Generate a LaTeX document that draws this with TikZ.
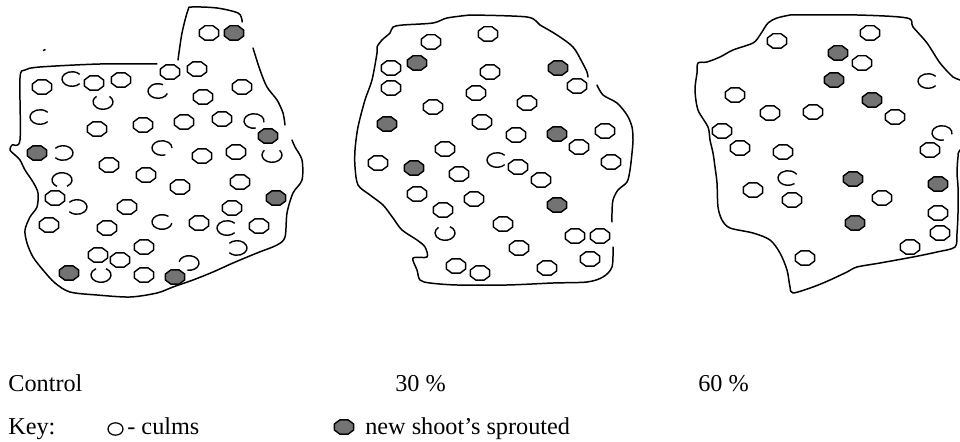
\documentclass[tikz,border=0pt]{standalone}
\usepackage{fontspec}
\setmainfont{Liberation Serif}
\usetikzlibrary{shapes.geometric}
\tikzset{
  outline/.style={line width=0.85pt, line join=round, line cap=round},
  culm/.style={line width=0.8pt, line join=round},
  shootfill/.style={fill=black!55, draw=black, line width=0.8pt, line join=round},
  lbl/.style={anchor=base west, inner sep=0pt, font=\fontsize{13.8}{16}\selectfont},
}
\newcommand\octpath[2]{(#1,#2) ++(9.6,3.0) -- ++(-5.6,4.2) -- ++(-8,0) -- ++(-5.6,-4.2) -- ++(0,-6) -- ++(5.6,-4.2) -- ++(8,0) -- ++(5.6,4.2) -- cycle}
\newcommand\cu[2]{\draw[culm] \octpath{#1}{#2};}
\newcommand\sh[2]{\draw[shootfill] \octpath{#1}{#2};}
\newcommand\cp[4]{\draw[culm] ([shift={(#3:10 and 7.3)}]#1,#2) arc[start angle=#3, end angle=#4, x radius=10, y radius=7.3];}
\begin{document}
\begin{tikzpicture}[x=0.02cm, y=-0.02cm]
\useasboundingbox (0,0) rectangle (960,442);

% ---------------- Panel 1 (Control) ----------------
\draw[outline] plot[smooth, tension=0.5] coordinates {
 (157,64) (100,64) (40,67) (25,70) (20,78) (20,140) (12,145) (10,150) (15,155) (20,160)
 (25,170) (33,182) (38,193) (37,207) (30,217) (25,230) (27,243) (33,257) (43,270) (55,283)
 (70,292) (97,295) (130,297) (157,293) (173,287) (193,280) (213,272) (233,263) (257,253)
 (277,245) (285,237) (287,213) (293,193) (302,180) (302,160) (295,147) (292,140)};
\draw[outline] plot[smooth, tension=0.5] coordinates {
 (178,60) (182,33) (188,10) (192,7) (217,8) (238,13) (242,20) (242,22)};
\draw[outline] plot[smooth, tension=0.5] coordinates {
 (253,48) (260,70) (267,87) (277,100) (283,113) (285,125)};
\draw[line width=0.8pt] (43,50.5) -- (45.5,49.5);

\cu{209}{33} \sh{234}{33}
\cu{170}{72} \cu{197}{69}
\cu{42}{87} \cp{72}{79}{40}{320} \cu{94}{83} \cu{121}{80}
\cp{158}{91}{20}{300} \cu{242}{87} \cp{103}{102}{-50}{230} \cu{203}{97}
\cp{40}{117}{40}{320} \cu{97}{129} \cu{143}{125} \cu{184}{122} \cu{222}{119}
\cp{254}{121}{80}{370} \sh{268}{136}
\sh{37}{153} \cp{63}{153}{-140}{140} \cp{162}{148}{70}{360} \cu{202}{156}
\cu{236}{152} \cp{272}{155}{-40}{220}
\cu{109}{165} \cu{146}{175} \cu{180}{187} \cu{240}{182} \cp{62}{180}{120}{420}
\cu{55}{198} \cp{77}{207}{-140}{140} \cu{127}{207} \sh{276}{198} \cu{232}{208}
\cu{49}{225} \cu{107}{228} \cp{162}{222}{10}{310} \cu{199}{223} \cp{227}{228}{40}{320}
\cu{259}{226}
\cu{144}{247} \cu{98}{255} \cu{120}{260} \cp{237}{248}{-140}{140} \cp{189}{263}{190}{460}
\sh{69}{273} \cp{101}{275}{-60}{240} \cu{144}{275} \sh{175}{277}

% ---------------- Panel 2 (30 %) ----------------
\draw[outline] plot[smooth, tension=0.5] coordinates {
 (470,15) (527,17) (540,25) (557,35) (573,47) (582,62) (587,72) (588,77)};
\draw[outline] plot[smooth, tension=0.5] coordinates {
 (597,85) (603,95) (617,103) (627,115) (632,127) (633,140) (632,153) (630,170) (627,182)
 (618,190) (613,200) (612,213) (612,222)};
\draw[outline] plot[smooth, tension=0.5] coordinates {
 (613,247) (612,267) (603,277) (587,282) (553,283) (507,285) (457,285) (430,283) (420,280)
 (417,270) (413,258) (427,257) (425,247) (417,240) (402,230) (393,218) (383,205) (370,195)
 (358,185) (355,167) (355,150) (358,127) (365,100) (372,80) (377,53) (377,47) (382,40)
 (390,33) (393,27) (403,25) (433,23) (447,18) (470,15)};

\cu{431}{42} \cu{488}{34}
\sh{417}{63} \cu{391}{68} \sh{558}{68} \cu{490}{72}
\cu{391}{88} \cu{577}{86} \cu{476}{93} \cu{527}{103} \cu{433}{107}
\sh{387}{124} \cu{482}{122} \cu{516}{135} \sh{557}{134} \cu{605}{131}
\cu{579}{147} \cu{445}{149} \cu{378}{163} \sh{414}{168} \cp{497}{160}{40}{320}
\cu{518}{167} \cu{611}{162} \cu{459}{174} \cu{541}{180}
\cu{417}{194} \cu{474}{199} \sh{557}{205} \cu{443}{210} \cu{503}{224}
\cp{445}{233}{-60}{230} \cu{575}{236} \cu{600}{236} \cu{519}{248} \cu{590}{259}
\cu{456}{266} \cu{480}{273} \cu{547}{268}

% ---------------- Panel 3 (60 %) ----------------
\begin{scope}
\clip (0,0) rectangle (960,442);
\draw[outline] plot[smooth, tension=0.5] coordinates {
 (790,15) (857,15) (907,18) (913,27) (927,43) (940,63) (953,77) (960,80) (975,90)
 (975,145) (960,150) (958,157) (957,173) (958,187) (958,213) (957,233) (955,247) (937,252)
 (913,257) (880,263) (857,267) (847,272) (830,280) (813,287) (793,293) (790,287) (787,270)
 (780,253) (770,240) (753,233) (730,228) (722,220) (718,207) (717,183) (715,167) (713,153)
 (710,140) (708,127) (698,110) (695,90) (697,73) (698,63) (707,62) (720,57) (733,50)
 (753,43) (760,35) (768,23) (777,18) (790,15)};
\end{scope}

\cu{870}{33} \cu{777}{41} \sh{838}{53} \cu{862}{63} \sh{834}{80} \cp{928}{81}{40}{320}
\cu{735}{95} \sh{872}{100} \cu{770}{113} \cu{813}{112} \cu{895}{117}
\cu{722}{131} \cp{942}{133}{80}{370} \cu{740}{148} \cu{783}{152} \cu{930}{150}
\cp{788}{178}{50}{330} \sh{853}{179} \sh{938}{184} \cu{753}{190} \cu{792}{200}
\cu{882}{198} \cu{938}{213} \sh{855}{223} \cu{940}{233} \cu{910}{247} \cu{805}{258}

% ---------------- Labels and key ----------------
\node[lbl] (lcontrol) at (8,391) {Control};
\node[lbl] (l30) at (395,391) {30 \%};
\node[lbl] (l60) at (698,391) {60 \%};
\node[lbl] (lkey) at (8,434) {Key:};
\draw[line width=0.7pt] (115.5,429) ellipse [x radius=7.5, y radius=6.2];
\node[lbl] (lculm) at (127,434) {- culms};
\sh{344}{427}
\node[lbl] (lshoot) at (365,434) {new shoot’s sprouted};
\end{tikzpicture}
\end{document}
